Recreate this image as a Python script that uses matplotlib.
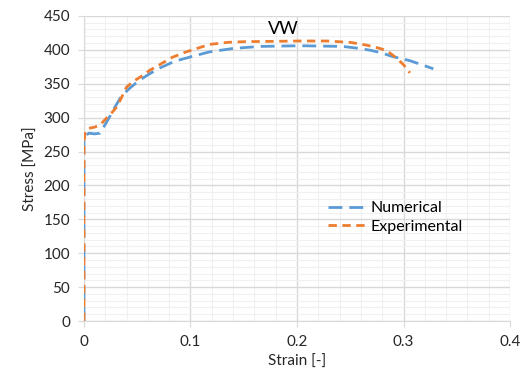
"""
Stress-strain curve, numerical vs experimental (VW).
"""

import matplotlib
matplotlib.use("Agg")
import matplotlib.pyplot as plt
from matplotlib.ticker import MultipleLocator

# numerical model
num_strain = [0.0, 0.0, 0.001, 0.005, 0.010, 0.015, 0.020, 0.024, 0.030, 0.035, 0.042,
              0.048, 0.053, 0.062, 0.071, 0.085, 0.101, 0.118, 0.140, 0.165, 0.203,
              0.243, 0.259, 0.270, 0.278, 0.290, 0.306, 0.328]
num_stress = [0, 265, 274, 277, 276, 277, 290, 301, 318, 331, 342,
              350, 356, 365, 373, 383, 390, 397, 402, 405, 406,
              405, 402, 399, 396, 390, 384, 372]

# test data
exp_strain = [0.0, 0.0, 0.001, 0.004, 0.010, 0.015, 0.021, 0.026, 0.031, 0.036, 0.040,
              0.046, 0.053, 0.062, 0.071, 0.083, 0.096, 0.118, 0.135, 0.150, 0.203,
              0.228, 0.250, 0.265, 0.278, 0.285, 0.290, 0.296, 0.300, 0.306]
exp_stress = [0, 262, 277, 284, 286, 289, 299, 307, 316, 332, 345,
              353, 360, 370, 378, 389, 397, 408, 411, 412, 413,
              413, 411, 407, 402, 398, 392, 384, 378, 366]

x_ticks = [0, 0.1, 0.2, 0.3, 0.4]
x_ticklabels = ["0", "0.1", "0.2", "0.3", "0.4"]

plt.rcParams["font.family"] = ["Lato", "DejaVu Sans"]

fig = plt.figure(figsize=(5.28, 3.79), dpi=100)
ax = fig.add_axes([0.159, 0.153, 0.807, 0.805])

ax.plot(num_strain, num_stress, color="#5b9bd5", linewidth=2, dashes=(5, 2.5),
        label="Numerical", zorder=3)
ax.plot(exp_strain, exp_stress, color="#ed7d31", linewidth=2, dashes=(3, 2),
        label="Experimental", zorder=4)

ax.set_xlim(0, 0.4)
ax.set_ylim(0, 450)
ax.set_xticks(x_ticks)
ax.set_xticklabels(x_ticklabels)
ax.xaxis.set_minor_locator(MultipleLocator(0.02))
ax.yaxis.set_major_locator(MultipleLocator(50))
ax.yaxis.set_minor_locator(MultipleLocator(10))

ax.grid(True, which="major", color="#d9d9d9", linewidth=1)
ax.grid(True, which="minor", color="#f0f0f0", linewidth=0.8)
ax.set_axisbelow(True)

for side in ["top", "right"]:
    ax.spines[side].set_visible(False)
for side in ["left", "bottom"]:
    ax.spines[side].set_color("#d9d9d9")
ax.tick_params(which="major", length=4, color="#d9d9d9", labelsize=11,
               labelcolor="#262626", pad=6)
ax.tick_params(which="minor", length=0)

ax.set_xlabel("Strain [-]", fontsize=11, color="#262626")
ax.set_ylabel("Stress [MPa]", fontsize=11, color="#262626")

ax.text(0.187, 430, "VW", fontsize=13, ha="center", va="center", color="#000000")

ax.legend(loc="upper left", bbox_to_anchor=(0.54, 0.44), frameon=False,
          fontsize=11.5, handlelength=2.5, labelspacing=0.25, handletextpad=0.15)

fig.savefig("out.png", dpi=100)
plt.close(fig)
